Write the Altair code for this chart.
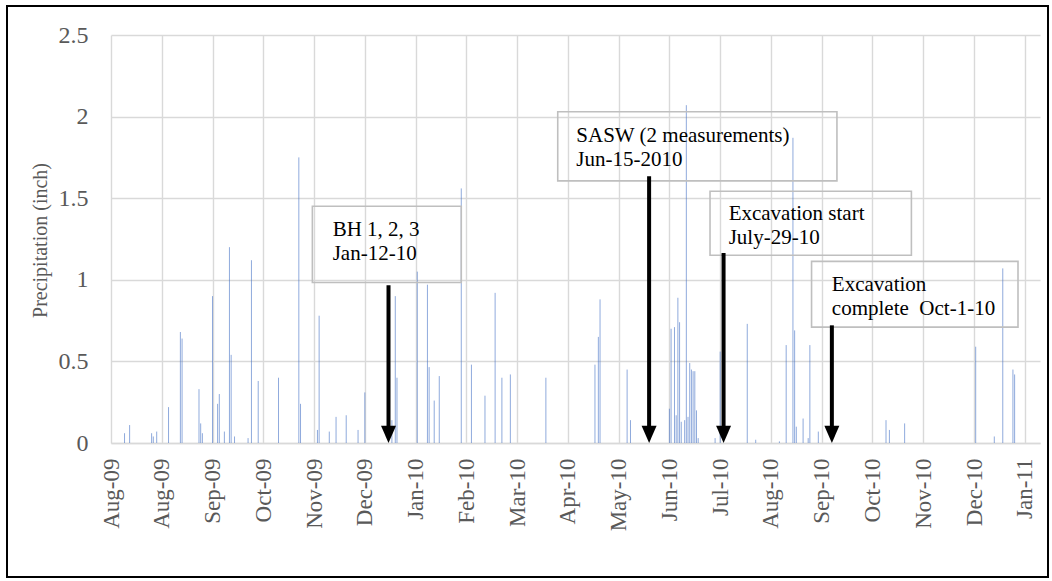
import altair as alt
import pandas as pd

# Daily precipitation record (inches), Aug 2009 - Jan 2011
rain_dates = [
    "2009-08-09", "2009-08-12", "2009-08-25", "2009-08-26", "2009-08-28",
    "2009-09-04", "2009-09-11", "2009-09-12", "2009-09-22", "2009-09-23",
    "2009-09-24", "2009-09-30", "2009-10-03", "2009-10-04", "2009-10-07",
    "2009-10-10", "2009-10-11", "2009-10-13", "2009-10-21", "2009-10-23",
    "2009-10-27", "2009-11-08", "2009-11-20", "2009-11-21", "2009-12-01",
    "2009-12-02", "2009-12-08", "2009-12-12", "2009-12-18", "2009-12-25",
    "2009-12-29", "2010-01-14", "2010-01-16", "2010-01-17", "2010-01-29",
    "2010-02-04", "2010-02-05", "2010-02-08", "2010-02-11", "2010-02-24",
    "2010-03-02", "2010-03-10", "2010-03-16", "2010-03-20", "2010-03-25",
    "2010-04-15", "2010-05-14", "2010-05-16", "2010-05-17", "2010-06-02",
    "2010-06-04", "2010-06-27", "2010-06-28", "2010-06-30", "2010-07-01",
    "2010-07-02", "2010-07-03", "2010-07-04", "2010-07-06", "2010-07-07",
    "2010-07-08", "2010-07-09", "2010-07-10", "2010-07-11", "2010-07-12",
    "2010-07-13", "2010-07-14", "2010-07-24", "2010-07-27", "2010-08-12",
    "2010-08-17", "2010-08-31", "2010-09-04", "2010-09-08", "2010-09-09",
    "2010-09-10", "2010-09-14", "2010-09-17", "2010-09-18", "2010-09-23",
    "2010-11-02", "2010-11-04", "2010-11-13", "2010-12-25", "2011-01-05",
    "2011-01-10", "2011-01-16", "2011-01-17",
]
rain_inches = [
    0.06, 0.11, 0.06, 0.04, 0.07,
    0.22, 0.68, 0.64, 0.33, 0.12,
    0.06, 0.90, 0.24, 0.30, 0.07,
    1.20, 0.54, 0.04, 0.03, 1.12,
    0.38, 0.40, 1.75, 0.24, 0.08,
    0.78, 0.07, 0.16, 0.17, 0.08,
    0.31, 0.14, 0.90, 0.40, 1.05,
    0.97, 0.465, 0.26, 0.41, 1.56,
    0.48, 0.29, 0.92, 0.40, 0.42,
    0.40, 0.48, 0.65, 0.88, 0.45,
    0.14, 0.21, 0.70, 0.71, 0.17,
    0.89, 0.74, 0.13, 0.14, 2.07,
    0.16, 0.49, 0.45, 0.44, 0.44,
    0.20, 0.03, 0.03, 0.56, 0.73,
    0.02, 0.01, 0.60, 1.87, 0.69,
    0.10, 0.15, 0.03, 0.60, 0.07,
    0.14, 0.08, 0.12, 0.59, 0.04,
    1.07, 0.45, 0.42,
]

# Date-axis labels every 30 days from the start of the record
tick_dates = [
    "2009-08-01", "2009-08-31", "2009-09-30", "2009-10-30", "2009-11-29",
    "2009-12-29", "2010-01-28", "2010-02-27", "2010-03-29", "2010-04-28",
    "2010-05-28", "2010-06-27", "2010-07-27", "2010-08-26", "2010-09-25",
    "2010-10-25", "2010-11-24", "2010-12-24", "2011-01-23",
]
axis_start, axis_end = "2009-08-01", "2011-02-01"
y_ticks = [0, 0.5, 1, 1.5, 2, 2.5]

# Site events: arrow date and the height where the arrow shaft starts
event_dates = ["2010-01-12", "2010-06-15", "2010-07-29", "2010-10-01"]
event_tops = [0.966, 1.635, 1.164, 0.721]

# Callout boxes (left date, right date, top, bottom) and their text
box_left = ["2009-11-28", "2010-04-22", "2010-07-21", "2010-09-19"]
box_right = ["2010-02-24", "2010-10-04", "2010-11-17", "2011-01-19"]
box_top = [1.451, 2.03, 1.543, 1.113]
box_bottom = [0.983, 1.606, 1.150, 0.710]
text_x = ["2009-12-10", "2010-05-03", "2010-08-01", "2010-10-01"]
text_y = [1.267, 1.845, 1.365, 0.931]
box_text = [
    "BH 1, 2, 3\nJan-12-10",
    "SASW (2 measurements)\nJun-15-2010",
    "Excavation start\nJuly-29-10",
    "Excavation\ncomplete\u00a0 Oct-1-10",
]


def ms(s):
    return int(pd.Timestamp(s, tz="UTC").value // 10**6)


SERIF = "Liberation Serif"
GRID = "#d9d9d9"
LABEL = "#595959"

rain = pd.DataFrame({"date": rain_dates, "inch": rain_inches})
events = pd.DataFrame({"date": event_dates, "top": event_tops, "base": 0.0, "shaft_end": 0.05})
boxes = pd.DataFrame({
    "x": box_left, "x2": box_right, "y": box_top, "y2": box_bottom,
    "tx": text_x, "ty": text_y, "label": box_text,
})

x_scale = alt.Scale(type="utc", domain=[ms(axis_start), ms(axis_end)], nice=False)
y_scale = alt.Scale(domain=[0, 2.5], nice=False)

x_axis = alt.Axis(
    values=[ms(d) for d in tick_dates],
    labelExpr="utcFormat(datum.value, '%b-%y')",
    labelAngle=270, labelAlign="right", labelBaseline="middle",
    labelFont=SERIF, labelFontSize=23, labelColor=LABEL, labelPadding=15,
    labelFlush=False, labelOverlap=False, labelBound=False,
    grid=True, gridColor=GRID, gridWidth=1.4,
    domain=True, domainColor=GRID, domainWidth=1.6,
    ticks=False, title=None,
)
y_axis = alt.Axis(
    values=y_ticks, format="~g",
    labelFont=SERIF, labelFontSize=24, labelColor=LABEL, labelPadding=23,
    grid=True, gridColor=GRID, gridWidth=1.4,
    domain=False, ticks=False,
    title="Precipitation (inch)", titleFont=SERIF, titleFontSize=20,
    titleFontWeight="normal", titleColor=LABEL, titleAngle=270,
    titleX=-71, titleY=205, titleAlign="center", titleBaseline="middle",
)

bars = alt.Chart(rain).mark_rule(color="#4472C4", strokeWidth=1, opacity=0.6).encode(
    x=alt.X("date:T", scale=x_scale, axis=x_axis),
    y=alt.Y("inch:Q", scale=y_scale, axis=y_axis),
    y2=alt.datum(0),
)

box_marks = alt.Chart(boxes).mark_rect(
    fill="white", fillOpacity=0, stroke="#bfbfbf", strokeWidth=1.6
).encode(
    x=alt.X("x:T", scale=x_scale), x2="x2:T",
    y=alt.Y("y:Q", scale=y_scale), y2="y2:Q",
)

box_labels = alt.Chart(boxes).mark_text(
    align="left", baseline="alphabetic", lineBreak="\n", lineHeight=24,
    font=SERIF, fontSize=21, color="black",
).encode(
    x=alt.X("tx:T", scale=x_scale), y=alt.Y("ty:Q", scale=y_scale), text="label:N",
)

shafts = alt.Chart(events).mark_rule(color="black", strokeWidth=4).encode(
    x=alt.X("date:T", scale=x_scale),
    y=alt.Y("top:Q", scale=y_scale), y2="shaft_end:Q",
)

heads = alt.Chart(events).mark_point(
    shape="M -1 -2.3 L 1 -2.3 L 0 0 Z", size=225, filled=True,
    color="black", opacity=1, strokeWidth=0,
).encode(
    x=alt.X("date:T", scale=x_scale), y=alt.Y("base:Q", scale=y_scale),
)

frame = alt.Chart(rain).mark_rect(
    fill="white", fillOpacity=0, stroke="black", strokeWidth=1.5
).encode(
    x=alt.value(-104), x2=alt.value(937), y=alt.value(-29), y2=alt.value(542),
)

chart = alt.layer(bars, box_marks, box_labels, shafts, heads, frame).properties(
    width=929, height=408,
    autosize=alt.AutoSizeParams(type="none"),
    padding={"left": 111, "top": 35, "right": 12, "bottom": 138},
    background="white",
).configure_view(strokeWidth=0)

chart.save("out.html", embed_options={"renderer": "svg", "actions": False})
